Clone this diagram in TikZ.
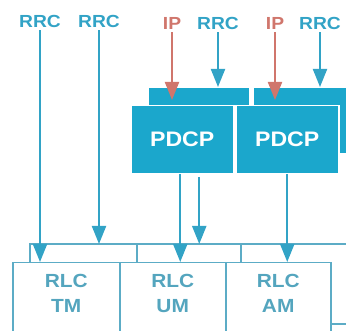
\documentclass[tikz,border=0pt]{standalone}
\usepackage{fontspec}
\setmainfont{Liberation Sans}[FakeStretch=1.1]
\usetikzlibrary{arrows.meta,positioning,calc}
\definecolor{pdcpblue}{RGB}{27,167,204}
\definecolor{rrcteal}{RGB}{50,163,198}
\definecolor{ipred}{RGB}{208,118,108}
\definecolor{rlcline}{RGB}{92,172,198}
\definecolor{rlctext}{RGB}{84,165,190}
\tikzset{
  pbox/.style={draw=white,line width=1.5pt,fill=pdcpblue,text=white,inner sep=0pt,
               font=\fontsize{21}{24}\selectfont\bfseries,minimum width=103pt,
               minimum height=68pt,anchor=north west},
  pback/.style={draw=white,line width=1.5pt,fill=pdcpblue,inner sep=0pt,
                minimum width=102pt,minimum height=66pt,anchor=north west},
  rbox/.style={draw=rlcline,line width=1.5pt,text=rlctext,align=center,inner sep=0pt,
               font=\fontsize{19}{25}\selectfont\bfseries,text depth=10pt,
               minimum height=72pt,anchor=north west},
  lbl/.style={font=\fontsize{17.5}{18}\selectfont\bfseries,text=rrcteal,inner sep=3pt},
  iplbl/.style={lbl,text=ipred},
  arr/.style={-{Triangle[length=18pt,width=14pt]},draw=rrcteal,line width=2pt},
  iparr/.style={arr,draw=ipred},
  link/.style={draw=rlcline,line width=2pt},
}
\begin{document}
\begin{tikzpicture}[x=1pt,y=-1pt]
\clip (0,0) rectangle (346,331);
% --- PDCP entities ---
\node[pback] (backA) at (147,87) {};
\node[pback] (backB) at (252,87) {};
\node[pbox] (pdcpA) at (130,105) {PDCP};
\node[pbox] (pdcpB) at (235,105) {PDCP};
% --- RLC entities ---
\node[rbox,minimum width=107pt] (tm) at (12,262) {RLC\\TM};
\node[rbox,minimum width=106pt] (um) at (119,262) {RLC\\UM};
\node[rbox,minimum width=105pt] (am) at (225,262) {RLC\\AM};
% bus above the RLC boxes
\coordinate (busL) at (30,244);
\coordinate (busR) at (346,244);
\coordinate (umtap) at (137,244);
\coordinate (amtap) at (241,244);
\coordinate (amout) at (346,324);
\draw[link] (busL |- tm.north) -- (busL) -- (busR);
\draw[link] (umtap) -- (umtap |- um.north);
\draw[link] (amtap) -- (amtap |- am.north);
\draw[link] (am.east |- amout) -- (amout);
% --- upper layer labels ---
\node[lbl] (rrc1) at (40,21) {RRC};
\node[lbl] (rrc2) at (99,21) {RRC};
\node[iplbl] (ip1) at (172,23) {IP};
\node[lbl] (rrc3) at (218,23) {RRC};
\node[iplbl] (ip2) at (275,23) {IP};
\node[lbl] (rrc4) at (320,23) {RRC};
% flow arrows
\draw[arr] (rrc1) -- (rrc1 |- tm.north);
\draw[arr] (rrc2) -- (rrc2 |- busL);
\draw[iparr] (ip1) -- ($(ip1 |- pdcpA.north)+(0,-5)$);
\draw[arr] (rrc3) -- (rrc3 |- backA.north);
\draw[iparr] (ip2) -- ($(ip2 |- pdcpB.north)+(0,-5)$);
\draw[arr] (rrc4) -- (rrc4 |- backB.north);
\coordinate (pdtap) at ([xshift=17pt]pdcpA.south);
\draw[arr] ([xshift=-2pt]pdcpA.south) -- ([xshift=-2pt]pdcpA.south |- um.north);
\draw[arr,shorten <=3pt] (pdtap) -- (pdtap |- busL);
\draw[arr] (pdcpB.south) -- (pdcpB.south |- am.north);
\end{tikzpicture}
\end{document}
